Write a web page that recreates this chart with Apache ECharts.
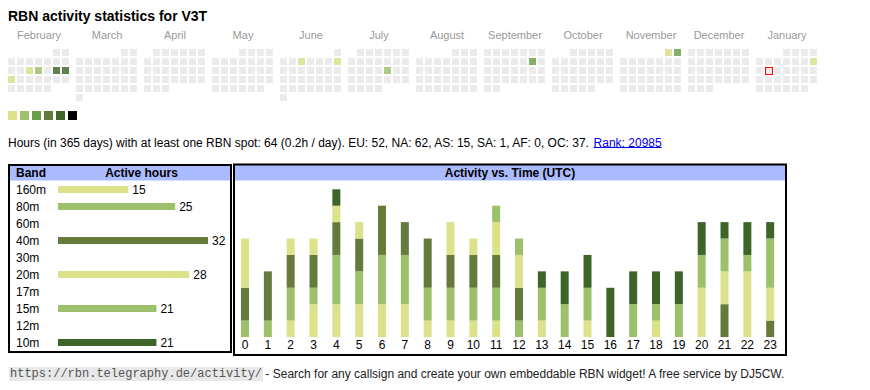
<!DOCTYPE html>
<html><head><meta charset="utf-8">
<script src="https://cdn.jsdelivr.net/npm/echarts@6/dist/echarts.min.js"></script>
<style>html,body{margin:0;padding:0;background:#fff}#c{width:870px;height:390px}</style>
</head><body><div id="c"></div>
<script>
// ---------- data ----------
const titleText = 'RBN activity statistics for V3T';
const monthNames = ['February','March','April','May','June','July','August','September','October','November','December','January'];
const monthRanges = ['2025-02','2025-03','2025-04','2025-05','2025-06','2025-07','2025-08','2025-09','2025-10','2025-11','2025-12','2026-01'];
const activeDays = ['2025-02-12','2025-02-13','2025-02-15','2025-02-16','2025-02-17','2025-06-04','2025-06-08','2025-07-18','2025-09-13','2025-11-01','2025-11-02','2026-01-11'];
const activeLevels = [1,2,5,5,1,1,1,2,3,1,3,1];
const todayDate = '2026-01-13';
const infoText = 'Hours (in 365 days) with at least one RBN spot: 64 (0.2h / day). EU: 52, NA: 62, AS: 15, SA: 1, AF: 0, OC: 37. ';
const rankText = 'Rank: 20985';
const bands = ['160m','80m','60m','40m','30m','20m','17m','15m','12m','10m'];
const bandHours = [15,25,0,32,0,28,0,21,0,21];
const hours = ['0','1','2','3','4','5','6','7','8','9','10','11','12','13','14','15','16','17','18','19','20','21','22','23'];
const stackBands = ['160m','80m','40m','20m','15m','10m'];
const h160 = [0,0,1,2,2,2,2,2,1,1,1,1,0,0,0,0,0,0,0,0,0,0,0,0];
const h80  = [1,1,2,1,3,2,3,3,2,2,2,2,1,0,0,0,0,0,0,0,0,0,0,0];
const h40  = [2,3,2,2,2,2,3,2,3,2,2,2,2,0,0,0,0,0,0,0,0,2,0,1];
const h20  = [3,0,1,1,1,1,0,0,0,2,1,2,2,1,0,1,0,0,1,0,3,2,4,2];
const h15  = [0,0,0,0,0,0,0,0,0,0,0,1,1,2,2,2,0,2,1,2,2,2,1,3];
const h10  = [0,0,0,0,1,0,0,0,0,0,0,0,0,1,2,2,3,2,2,2,2,1,2,1];
const stackData = [h160,h80,h40,h20,h15,h10];
const footerUrl = 'https://rbn.telegraphy.de/activity/';
const footerText = ' - Search for any callsign and create your own embeddable RBN widget! A free service by DJ5CW.';
const tableHeadBand = 'Band';
const tableHeadHours = 'Active hours';
const chartTitle = 'Activity vs. Time (UTC)';

// ---------- styles ----------
const FONT = '"Liberation Sans", Arial, Helvetica, sans-serif';
const MONO = '"Liberation Mono", "DejaVu Sans Mono", monospace';
const levelColors = ['#dbe28a','#9dc16b','#6a9f48','#647b3c','#3d6528','#000000'];
const bandColor = {'160m':'#dbe28a','80m':'#9dc16b','60m':'#6a9f48','40m':'#647b3c','30m':'#3d6528','20m':'#dbe28a','17m':'#9dc16b','15m':'#9dc16b','12m':'#6a9f48','10m':'#3d6528'};
const headBlue = '#aabbff';
const cellGray = '#ebebeb';

function measure(text, font){
  const c = document.createElement('canvas').getContext('2d');
  c.font = font; return c.measureText(text).width;
}
function txt(x, y, text, font, fill, align, extra){
  return {type:'text', x:x, y:y, style:Object.assign({text:text, font:font, fill:fill,
    textAlign:align, textVerticalAlign:'middle', align:align, verticalAlign:'middle'}, extra||{})};
}

const chart = echarts.init(document.getElementById('c'), null, {renderer:'svg'});

const calendars = monthRanges.map((r,i)=>({
  orient:'vertical', range:r, left:7+68*i, top:48, cellSize:[9,9],
  dayLabel:{show:false, firstDay:1}, monthLabel:{show:false}, yearLabel:{show:false},
  splitLine:{show:false},
  itemStyle:{color:cellGray, borderColor:'#ffffff', borderWidth:2}
}));

const calSeries = monthRanges.map((r,i)=>({
  type:'scatter', coordinateSystem:'calendar', calendarIndex:i, symbol:'rect', symbolSize:7, silent:true,
  data: activeDays.map((d,k)=>({d,k})).filter(o=>o.d.slice(0,7)===r)
    .map(o=>({value:[o.d, activeLevels[o.k]], itemStyle:{color:levelColors[activeLevels[o.k]-1]}}))
}));
const todayCal = monthRanges.indexOf(todayDate.slice(0,7));
calSeries.push({
  type:'scatter', coordinateSystem:'calendar', calendarIndex:todayCal,
  symbol:'rect', symbolSize:8, symbolOffset:[0.5,0.5], silent:true, z:5,
  itemStyle:{color:'#ff0000', opacity:1},
  data:[[todayDate, 0]]
});
calSeries.push({
  type:'scatter', coordinateSystem:'calendar', calendarIndex:todayCal,
  symbol:'rect', symbolSize:6, symbolOffset:[0.5,0.5], silent:true, z:6,
  itemStyle:{color:cellGray, opacity:1},
  data:[[todayDate, 0]]
});

const graphics = [];
graphics.push(txt(8, 16, titleText, 'bold 14px '+FONT, '#000', 'left'));
monthNames.forEach((m,i)=>{
  graphics.push(txt(7+68*i+32, 35, m, '11px '+FONT, '#999', 'center'));
});
levelColors.forEach((c,i)=>{
  graphics.push({type:'rect', shape:{x:8+12*i, y:111, width:9, height:9}, style:{fill:c}});
});
const infoFont = '12px '+FONT;
const infoW = measure(infoText, infoFont);
const rankW = measure(rankText, infoFont);
graphics.push(txt(8, 142.5, infoText, infoFont, '#000', 'left'));
graphics.push(txt(8+infoW, 142.5, rankText, infoFont, '#0000ee', 'left'));
graphics.push({type:'rect', shape:{x:8+infoW, y:147, width:rankW, height:1}, style:{fill:'#0000ee'}});

// band table box
graphics.push({type:'rect', shape:{x:10, y:166, width:220, height:14.5}, style:{fill:headBlue}, z:-1});
graphics.push({type:'rect', shape:{x:9, y:165, width:222, height:187}, style:{fill:null, stroke:'#000', lineWidth:2}});
graphics.push(txt(16, 173.3, tableHeadBand, 'bold 12px '+FONT, '#000', 'left'));
graphics.push(txt(141.5, 173.3, tableHeadHours, 'bold 12px '+FONT, '#000', 'center'));

// activity box
graphics.push({type:'rect', shape:{x:235, y:165, width:550, height:15.5}, style:{fill:headBlue}, z:-1});
graphics.push({type:'rect', shape:{x:234, y:164.5, width:552, height:190.5}, style:{fill:null, stroke:'#000', lineWidth:2}});
graphics.push(txt(510, 173, chartTitle, 'bold 12px '+FONT, '#000', 'center'));

// footer
const monoFont = '12px '+MONO;
const urlW = measure(footerUrl, monoFont);
graphics.push(txt(9, 374, footerUrl, monoFont, '#555', 'left', {backgroundColor:'#e8e8e8', padding:[1,1,1,1]}));
graphics.push(txt(10+urlW, 374, footerText, '12px '+FONT, '#222', 'left'));

const option = {
  animation:false,
  textStyle:{fontFamily:FONT},
  calendar: calendars,
  grid:[
    {left:58, top:181, width:150, height:170},
    {left:233.6, top:189.3, width:548, height:147.7}
  ],
  xAxis:[
    {gridIndex:0, type:'value', min:0, max:32, show:false},
    {gridIndex:1, type:'category', data:hours, axisLine:{show:false}, axisTick:{show:false},
     axisLabel:{margin:2, fontSize:12, color:'#000', fontFamily:FONT, interval:0}}
  ],
  yAxis:[
    {gridIndex:0, type:'category', data:bands, inverse:true, axisLine:{show:false}, axisTick:{show:false},
     axisLabel:{align:'left', margin:42, fontSize:12, color:'#000', fontFamily:FONT, interval:0}},
    {gridIndex:1, type:'value', min:0, max:9, show:false}
  ],
  series: calSeries.concat([
    {type:'bar', xAxisIndex:0, yAxisIndex:0, barWidth:7, silent:true,
     data: bandHours.map((v,i)=>({value:v, itemStyle:{color:bandColor[bands[i]]}})),
     label:{show:true, position:'right', distance:4, fontSize:12, color:'#000', fontFamily:FONT,
            formatter:p=>p.value>0?String(p.value):''}}
  ]).concat(stackBands.map((b,i)=>({
    type:'bar', name:b, stack:'hours', xAxisIndex:1, yAxisIndex:1, barWidth:8, silent:true,
    itemStyle:{color:bandColor[b]}, data:stackData[i]
  }))),
  graphic: graphics
};
chart.setOption(option);
</script></body></html>
